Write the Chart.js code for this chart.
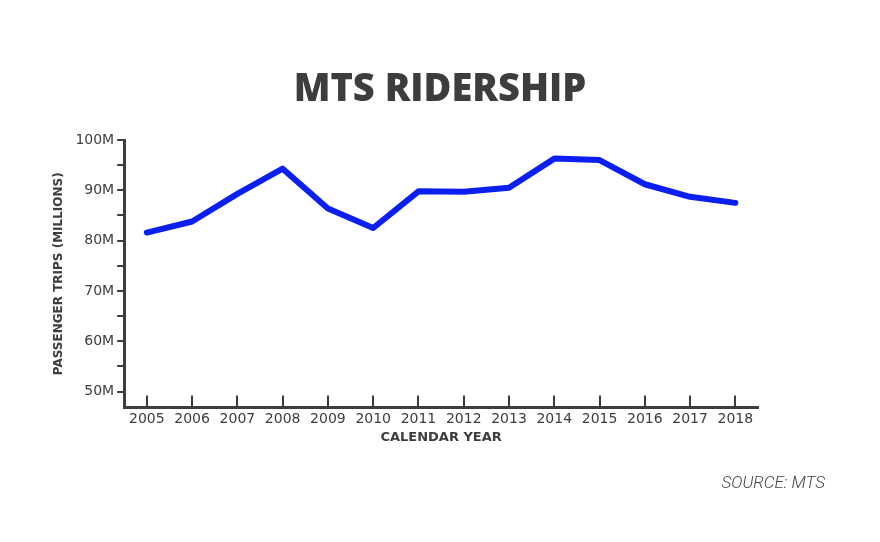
<!DOCTYPE html>
<html>
<head>
<meta charset="utf-8">
<script src="https://cdn.jsdelivr.net/npm/chart.js@4"></script>
<style>
  html, body { margin: 0; padding: 0; background: #fff; }
  #wrap { width: 880px; height: 542px; position: relative; }
</style>
</head>
<body>
<div id="wrap"><canvas id="ridership"></canvas></div>
<script>
const years = ['2005', '2006', '2007', '2008', '2009', '2010', '2011',
               '2012', '2013', '2014', '2015', '2016', '2017', '2018'];
// passenger trips, millions
const trips = [81.6, 83.8, 89.3, 94.3, 86.4, 82.5, 89.8,
               89.7, 90.5, 96.3, 96.0, 91.2, 88.7, 87.5];
const yTicks = [50, 55, 60, 65, 70, 75, 80, 85, 90, 95, 100];
const chartTitle = 'MTS RIDERSHIP';
const sourceNote = 'SOURCE: MTS';

const ink = '#3d3d3d';
const ctx = document.getElementById('ridership');

// title centred on the whole page and the source note at bottom right
const pageText = {
    id: 'pageText',
    afterDraw(chart) {
        const c = chart.ctx;
        c.save();
        c.fillStyle = ink;
        c.textAlign = 'center';
        c.textBaseline = 'alphabetic';
        c.font = '800 38px "Open Sans"';
        c.fillText(chartTitle, chart.width / 2, 101);
        c.fillStyle = '#444';
        c.textAlign = 'right';
        c.font = 'italic 300 17px Roboto';
        c.fillText(sourceNote, 825, 488);
        c.restore();
    }
};

new Chart(ctx, {
    type: 'line',
    data: {
    labels: years,
    datasets: [{
        label: 'Passenger trips',
        data: trips,
        borderColor: '#0a1ff0',
        borderWidth: 6,
        pointRadius: 0,
        tension: 0,
        borderCapStyle: 'round',
        borderJoinStyle: 'round'
    }]
    },
    options: {
    responsive: true,
    maintainAspectRatio: false,
    animation: false,
    layout: {
        padding: { left: 52, right: 122, top: 140, bottom: 97 }
    },
    plugins: {
        legend: { display: false },
        tooltip: { enabled: false }
    },
    scales: {
        x: {
            offset: true,
            grid: {
                drawOnChartArea: false, // only the little marks
                color: ink,
                lineWidth: 2,
                tickLength: -12
            },
            border: { color: ink, width: 3 },
            ticks: {
                color: ink,
                padding: 15,
                maxRotation: 0,
                autoSkip: false,
                font: { family: 'DejaVu Sans', size: 14 }
            },
            title: {
                display: true,
                text: 'CALENDAR YEAR',
                color: ink,
                font: { family: 'DejaVu Sans', size: 13, weight: 'bold' },
                padding: { top: -13, bottom: 0 }
            }
        },
        y: {
            min: 46.8,
            max: 100,
            afterBuildTicks: (axis) => {
                axis.ticks = yTicks.map(v => ({ value: v }));
            },
            grid: {
                drawOnChartArea: false,
                color: ink,
                lineWidth: 2,
                tickLength: 7
            },
            border: { color: ink, width: 3 },
            ticks: {
                color: ink,
                padding: 3,
                font: { family: 'DejaVu Sans', size: 14 },
                callback: (v) => (v % 10 === 0 ? v + 'M' : '')
            },
            title: {
                display: true,
                text: 'PASSENGER TRIPS (MILLIONS)',
                color: ink,
                font: { family: 'DejaVu Sans', size: 12, weight: 'bold' },
                padding: { top: 0, bottom: 6 }
            }
        }
    }
    },
    plugins: [pageText]
});
</script>
</body>
</html>
